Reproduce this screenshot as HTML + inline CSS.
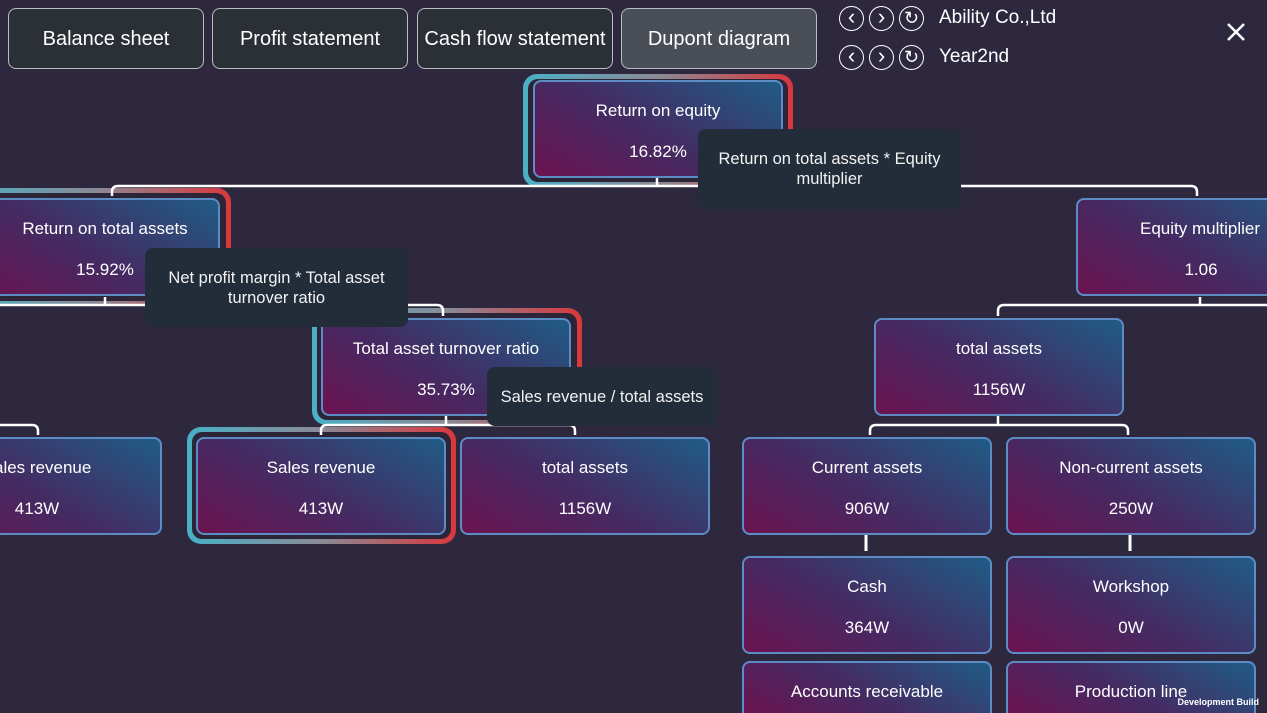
<!DOCTYPE html>
<html style="width:1267px;height:713px;overflow:hidden"><head><meta charset="utf-8"><style>
*{margin:0;padding:0;box-sizing:border-box}
body{width:1267px;height:713px;overflow:hidden;background:#2e283f;font-family:"Liberation Sans",sans-serif;position:relative;color:#fff}
.tab{position:absolute;top:8px;width:196px;height:61px;border:1.5px solid #b8bcc4;border-radius:8px;background:#2b2f36;font-size:20px;text-align:center;line-height:60px}
.tab.act{background:#4a4e57}
.ring{position:absolute;border-radius:14px;background:linear-gradient(90deg,#4ab0c6 0%,#8a8a96 50%,#d8383c 100%)}
.ring::after{content:"";position:absolute;left:5px;top:5px;right:5px;bottom:5px;border-radius:10px;background:#2b2537}
.box{position:absolute;width:250px;height:98px;border:2px solid #5d8cc4;border-radius:8px;background:linear-gradient(30deg,#6b1350 0%,#452a62 45%,#1f5c86 100%);text-align:center;font-size:17px}
.box.cut{height:52px;border-bottom:none;border-radius:8px 8px 0 0}
.box .t{position:absolute;left:0;right:0;top:19px}
.box .v{position:absolute;left:0;right:0;top:60px}
.tip{position:absolute;background:#232d3a;border-radius:8px;font-size:16.5px;text-align:center;color:#f2f2f2;display:flex;align-items:center;justify-content:center;line-height:20px}
.ic{position:absolute;width:25px;height:25px;border:1.5px solid #fff;border-radius:50%;font-size:22px;text-align:center;line-height:20px}
</style></head><body>
<div class="tab" style="left:8px">Balance sheet</div>
<div class="tab" style="left:212px">Profit statement</div>
<div class="tab" style="left:417px">Cash flow statement</div>
<div class="tab act" style="left:621px">Dupont diagram</div>

<div class="ic" style="left:839px;top:6px">&lsaquo;</div><div class="ic" style="left:869px;top:6px">&rsaquo;</div><div class="ic" style="left:899px;top:6px;font-size:18px;line-height:22px">&#8635;</div>
<div style="position:absolute;left:939px;top:7px;font-size:19px">Ability Co.,Ltd</div>
<div class="ic" style="left:839px;top:45px">&lsaquo;</div><div class="ic" style="left:869px;top:45px">&rsaquo;</div><div class="ic" style="left:899px;top:45px;font-size:18px;line-height:22px">&#8635;</div>
<div style="position:absolute;left:939px;top:46px;font-size:19px">Year2nd</div>
<svg style="position:absolute;left:1226px;top:22px" width="20" height="20" stroke="#fff" stroke-width="2.5"><path d="M2 2L18 18M18 2L2 18"/></svg>

<div class="ring" style="left:523px;top:74px;width:270px;height:113px"></div>
<div class="ring" style="left:-40px;top:188px;width:271px;height:118px"></div>
<div class="ring" style="left:312px;top:308px;width:270px;height:117px"></div>
<div class="ring" style="left:187px;top:427px;width:269px;height:117px"></div>

<svg style="position:absolute;left:0;top:0" width="1267" height="713" fill="none" stroke="#fff" stroke-width="2.5">
<path d="M657 178V186"/>
<path d="M112 196V192q0-6 6-6H1191q6 0 6 6V196"/>
<path d="M105 297V305"/>
<path d="M0 305H437q6 0 6 6V316"/>
<path d="M1200 297V305"/>
<path d="M998 316V311q0-6 6-6H1267"/>
<path d="M998 415V425"/>
<path d="M870 435V431q0-6 6-6H1122q6 0 6 6V435"/>
<path d="M446 415V425"/>
<path d="M321 435V431q0-6 6-6H569q6 0 6 6V435"/>
<path d="M0 425H32q6 0 6 6V435"/>
<path d="M866 534V551M1130 534V551" stroke-width="3"/>
</svg>

<div class="box" style="left:533px;top:80px"><div class="t">Return on equity</div><div class="v">16.82%</div></div>
<div class="box" style="left:-30px;top:198px"><div class="t" style="left:20px">Return on total assets</div><div class="v" style="left:20px">15.92%</div></div>
<div class="box" style="left:1076px;top:198px"><div class="t" style="left:-2px">Equity multiplier</div><div class="v">1.06</div></div>
<div class="box" style="left:874px;top:318px"><div class="t">total assets</div><div class="v">1156W</div></div>
<div class="box" style="left:321px;top:318px"><div class="t">Total asset turnover ratio</div><div class="v">35.73%</div></div>
<div class="box" style="left:-88px;top:437px"><div class="t">Sales revenue</div><div class="v">413W</div></div>
<div class="box" style="left:196px;top:437px"><div class="t">Sales revenue</div><div class="v">413W</div></div>
<div class="box" style="left:460px;top:437px"><div class="t">total assets</div><div class="v">1156W</div></div>
<div class="box" style="left:742px;top:437px"><div class="t">Current assets</div><div class="v">906W</div></div>
<div class="box" style="left:1006px;top:437px"><div class="t">Non-current assets</div><div class="v">250W</div></div>
<div class="box" style="left:742px;top:556px"><div class="t">Cash</div><div class="v">364W</div></div>
<div class="box" style="left:1006px;top:556px"><div class="t">Workshop</div><div class="v">0W</div></div>
<div class="box cut" style="left:742px;top:661px"><div class="t">Accounts receivable</div></div>
<div class="box cut" style="left:1006px;top:661px"><div class="t">Production line</div></div>

<div class="tip" style="left:698px;top:129px;width:263px;height:80px">Return on total assets * Equity<br>multiplier</div>
<div class="tip" style="left:145px;top:248px;width:263px;height:79px">Net profit margin * Total asset<br>turnover ratio</div>
<div class="tip" style="left:487px;top:367px;width:230px;height:59px">Sales revenue / total assets</div>

<div style="position:absolute;right:8px;top:697px;font-size:9px;font-weight:bold">Development Build</div>
</body></html>
